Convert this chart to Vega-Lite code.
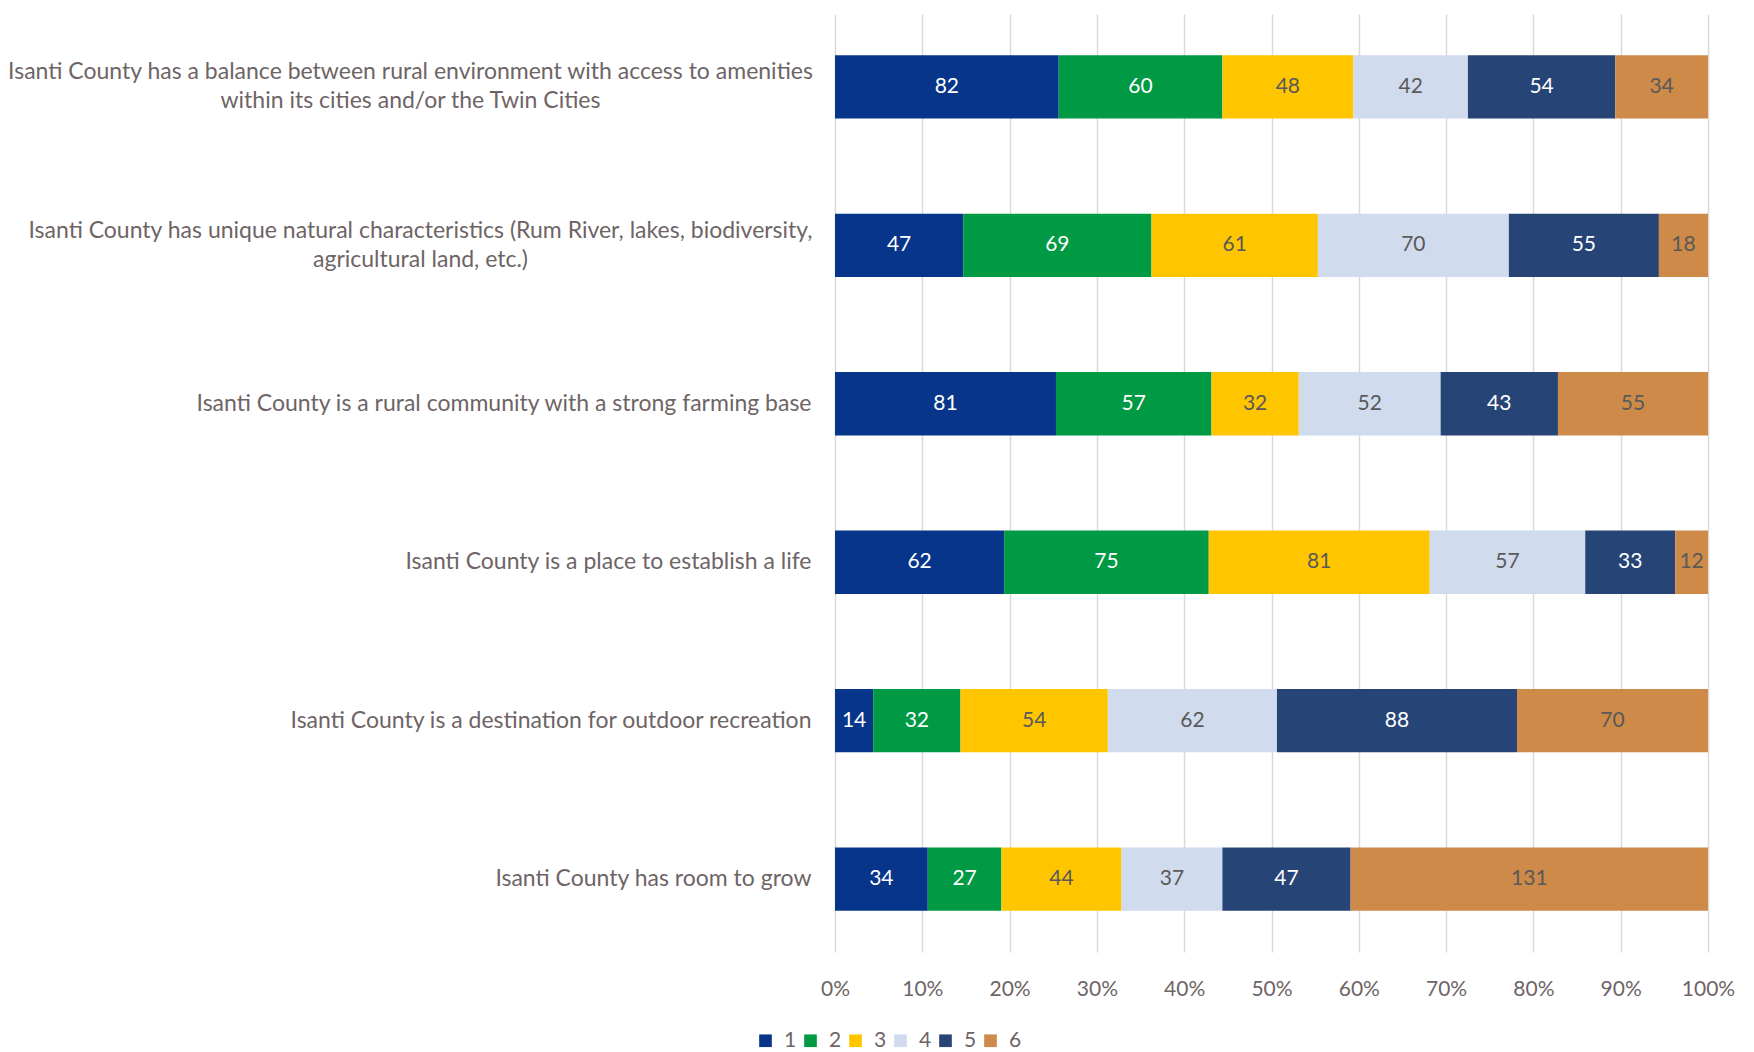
{
  "$schema": "https://vega.github.io/schema/vega-lite/v6.json",
  "width": 873,
  "height": 938,
  "autosize": "none",
  "padding": {"left": 835, "top": 14, "right": 46, "bottom": 100},
  "background": "white",
  "config": {
    "view": {"stroke": null},
    "font": "Lato",
    "axis": {"labelFont": "Lato", "labelColor": "#6e6466"},
    "legend": {"labelFont": "Lato", "labelColor": "#6e6466"}
  },
  "data": {
    "values": [
      {"q": "Isanti County has a balance between rural environment with access to amenities|within its cities and/or the Twin Cities", "cat": "1", "n": 82},
      {"q": "Isanti County has a balance between rural environment with access to amenities|within its cities and/or the Twin Cities", "cat": "2", "n": 60},
      {"q": "Isanti County has a balance between rural environment with access to amenities|within its cities and/or the Twin Cities", "cat": "3", "n": 48},
      {"q": "Isanti County has a balance between rural environment with access to amenities|within its cities and/or the Twin Cities", "cat": "4", "n": 42},
      {"q": "Isanti County has a balance between rural environment with access to amenities|within its cities and/or the Twin Cities", "cat": "5", "n": 54},
      {"q": "Isanti County has a balance between rural environment with access to amenities|within its cities and/or the Twin Cities", "cat": "6", "n": 34},
      {"q": "Isanti County has unique natural characteristics (Rum River, lakes, biodiversity,|agricultural land, etc.)", "cat": "1", "n": 47},
      {"q": "Isanti County has unique natural characteristics (Rum River, lakes, biodiversity,|agricultural land, etc.)", "cat": "2", "n": 69},
      {"q": "Isanti County has unique natural characteristics (Rum River, lakes, biodiversity,|agricultural land, etc.)", "cat": "3", "n": 61},
      {"q": "Isanti County has unique natural characteristics (Rum River, lakes, biodiversity,|agricultural land, etc.)", "cat": "4", "n": 70},
      {"q": "Isanti County has unique natural characteristics (Rum River, lakes, biodiversity,|agricultural land, etc.)", "cat": "5", "n": 55},
      {"q": "Isanti County has unique natural characteristics (Rum River, lakes, biodiversity,|agricultural land, etc.)", "cat": "6", "n": 18},
      {"q": "Isanti County is a rural community with a strong farming base", "cat": "1", "n": 81},
      {"q": "Isanti County is a rural community with a strong farming base", "cat": "2", "n": 57},
      {"q": "Isanti County is a rural community with a strong farming base", "cat": "3", "n": 32},
      {"q": "Isanti County is a rural community with a strong farming base", "cat": "4", "n": 52},
      {"q": "Isanti County is a rural community with a strong farming base", "cat": "5", "n": 43},
      {"q": "Isanti County is a rural community with a strong farming base", "cat": "6", "n": 55},
      {"q": "Isanti County is a place to establish a life", "cat": "1", "n": 62},
      {"q": "Isanti County is a place to establish a life", "cat": "2", "n": 75},
      {"q": "Isanti County is a place to establish a life", "cat": "3", "n": 81},
      {"q": "Isanti County is a place to establish a life", "cat": "4", "n": 57},
      {"q": "Isanti County is a place to establish a life", "cat": "5", "n": 33},
      {"q": "Isanti County is a place to establish a life", "cat": "6", "n": 12},
      {"q": "Isanti County is a destination for outdoor recreation", "cat": "1", "n": 14},
      {"q": "Isanti County is a destination for outdoor recreation", "cat": "2", "n": 32},
      {"q": "Isanti County is a destination for outdoor recreation", "cat": "3", "n": 54},
      {"q": "Isanti County is a destination for outdoor recreation", "cat": "4", "n": 62},
      {"q": "Isanti County is a destination for outdoor recreation", "cat": "5", "n": 88},
      {"q": "Isanti County is a destination for outdoor recreation", "cat": "6", "n": 70},
      {"q": "Isanti County has room to grow", "cat": "1", "n": 34},
      {"q": "Isanti County has room to grow", "cat": "2", "n": 27},
      {"q": "Isanti County has room to grow", "cat": "3", "n": 44},
      {"q": "Isanti County has room to grow", "cat": "4", "n": 37},
      {"q": "Isanti County has room to grow", "cat": "5", "n": 47},
      {"q": "Isanti County has room to grow", "cat": "6", "n": 131}
    ]
  },
  "encoding": {
    "y": {
      "field": "q",
      "type": "nominal",
      "sort": null,
      "title": null,
      "scale": {"paddingInner": 0.6, "paddingOuter": 0.26},
      "axis": {
        "domain": false,
        "ticks": false,
        "labelExpr": "split(datum.label, '|')",
        "labelFontSize": 23,
        "labelLineHeight": 29,
        "labelLimit": 900,
        "labelAlign": {"condition": {"test": "indexof(datum.value, '|') >= 0", "value": "center"}, "value": "right"},
        "labelOffset": {"condition": {"test": "indexof(datum.value, '|') >= 0", "value": -14.5}, "value": 0},
        "labelPadding": {
          "condition": [
            {"test": "indexof(datum.value, 'balance') >= 0", "value": 425},
            {"test": "indexof(datum.value, 'unique') >= 0", "value": 415}
          ],
          "value": 24
        }
      }
    },
    "x": {
      "field": "n",
      "type": "quantitative",
      "stack": "normalize",
      "title": null,
      "scale": {"domain": [0, 1]},
      "axis": {
        "format": ".0%",
        "values": [0, 0.1, 0.2, 0.3, 0.4, 0.5, 0.6, 0.7, 0.8, 0.9, 1],
        "domain": false,
        "ticks": false,
        "grid": true,
        "gridColor": "#d9d9d9",
        "gridWidth": 1.5,
        "labelFontSize": 21,
        "labelPadding": 26,
        "labelFlush": false
      }
    },
    "order": {"field": "cat", "sort": "ascending"}
  },
  "layer": [
    {
      "mark": {"type": "bar"},
      "encoding": {
        "color": {
          "field": "cat",
          "type": "nominal",
          "title": null,
          "scale": {
            "domain": ["1", "2", "3", "4", "5", "6"],
            "range": ["#06358a", "#009a44", "#ffc600", "#d0dbed", "#264476", "#ce8a48"]
          },
          "legend": {
            "orient": "none",
            "direction": "horizontal",
            "columns": 6,
            "legendX": -80,
            "legendY": 1016,
            "symbolType": "square",
            "symbolSize": 160,
            "symbolStrokeWidth": 0,
            "labelFontSize": 21,
            "labelOffset": 8,
            "columnPadding": 3,
            "padding": 0
          }
        }
      }
    },
    {
      "mark": {"type": "text", "fontSize": 21, "font": "Lato", "baseline": "middle", "align": "center"},
      "encoding": {
        "x": {"field": "n", "type": "quantitative", "stack": "normalize", "bandPosition": 0.5},
        "text": {"field": "n", "type": "quantitative"},
        "color": {
          "condition": {"test": "datum.cat == '3' || datum.cat == '4' || datum.cat == '6'", "value": "#595959"},
          "value": "#ffffff"
        }
      }
    }
  ]
}
